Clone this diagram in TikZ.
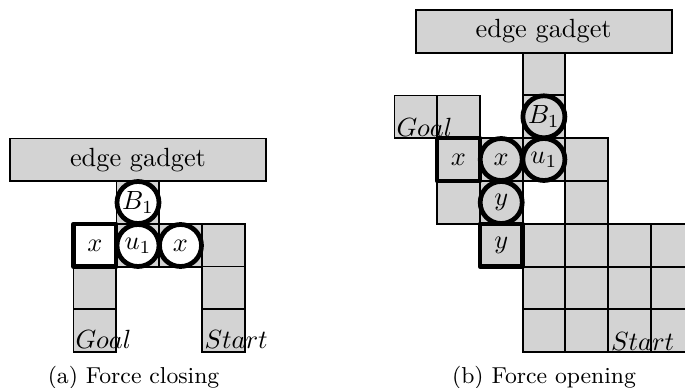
\documentclass[tikz,border=0pt]{standalone}
\definecolor{cellgray}{HTML}{D3D3D3}
\tikzset{
  cell/.style={draw=black,line width=0.7pt,fill=cellgray},
  gadget/.style={draw=black,line width=0.7pt,fill=cellgray,inner sep=0pt,minimum height=42.5*0.38pt},
  ball/.style={circle,draw=black,line width=1.8pt,inner sep=0pt,minimum size=42*0.38pt},
  hold/.style={draw=black,line width=1.7pt,line join=round},
  marktext/.style={inner sep=0pt},
  word/.style={inner sep=0pt,anchor=base west},
  captiontext/.style={inner sep=0pt,anchor=base,font=\fontsize{8.75}{10}\selectfont}
}
\begin{document}
\begin{tikzpicture}[x=0.38pt,y=-0.38pt]
\clip (0,0) rectangle (685,388);
% ---- (a) Force closing
\foreach \l/\t in {73.5/224,73.5/266.5,73.5/309,116.5/224,159.2/224,202/224,202/266.5,202/309,116.5/181}{
  \draw[cell] (\l,\t) rectangle ++(42.7,42.6);
}
\fill[white] (73.5,224) rectangle ++(42.7,42.6);
\draw[hold] (73.5,224) rectangle ++(42.7,42.6);
\node[gadget,minimum width=256.5*0.38pt] (ga) at (138,159.7) {edge gadget};
\node[marktext] (xa) at (95,245.5) {$x$};
\node[ball,fill=white] (ba) at (138,202.5) {$B_1$};
\node[ball,fill=white] (ua) at (138,245.5) {$u_1$};
\node[ball,fill=white] (xb) at (180.5,245.5) {$x$};
\node[word] (goala) at (75,348) {$Goal$};
\node[word] (starta) at (204,348) {$Start$};
\node[captiontext] (capa) at (133.5,383) {(a) Force closing};
% ---- (b) Force opening
\foreach \l/\t in {394.5/95.5,437.2/95.5,437.2/138.2,437.2/181,479.9/138.2,479.9/181,479.9/224,522.6/52.8,522.6/95.5,522.6/138.2,565.3/138.2,565.3/181,522.6/224,565.3/224,608/224,650.7/224,522.6/266.6,565.3/266.6,608/266.6,650.7/266.6,522.6/309,565.3/309,608/309,650.7/309}{
  \draw[cell] (\l,\t) rectangle ++(42.7,42.6);
}
\draw[hold] (437.2,138.2) rectangle ++(42.7,42.8);
\draw[hold] (479.9,224) rectangle ++(42.7,42.6);
\node[gadget,minimum width=256*0.38pt] (gb) at (543.7,31.5) {edge gadget};
\node[marktext] (xc) at (458.5,159.5) {$x$};
\node[marktext] (yb) at (501.2,245.5) {$y$};
\node[ball,fill=cellgray] (bb) at (543.9,116.8) {$B_1$};
\node[ball,fill=cellgray] (ub) at (543.9,159.5) {$u_1$};
\node[ball,fill=cellgray] (xd) at (501.2,159.5) {$x$};
\node[ball,fill=cellgray] (ya) at (501.2,202.5) {$y$};
\node[word] (goalb) at (396,136.5) {$Goal$};
\node[word] (startb) at (610.5,350.5) {$Start$};
\node[captiontext] (capb) at (544,383) {(b) Force opening};
\end{tikzpicture}
\end{document}
